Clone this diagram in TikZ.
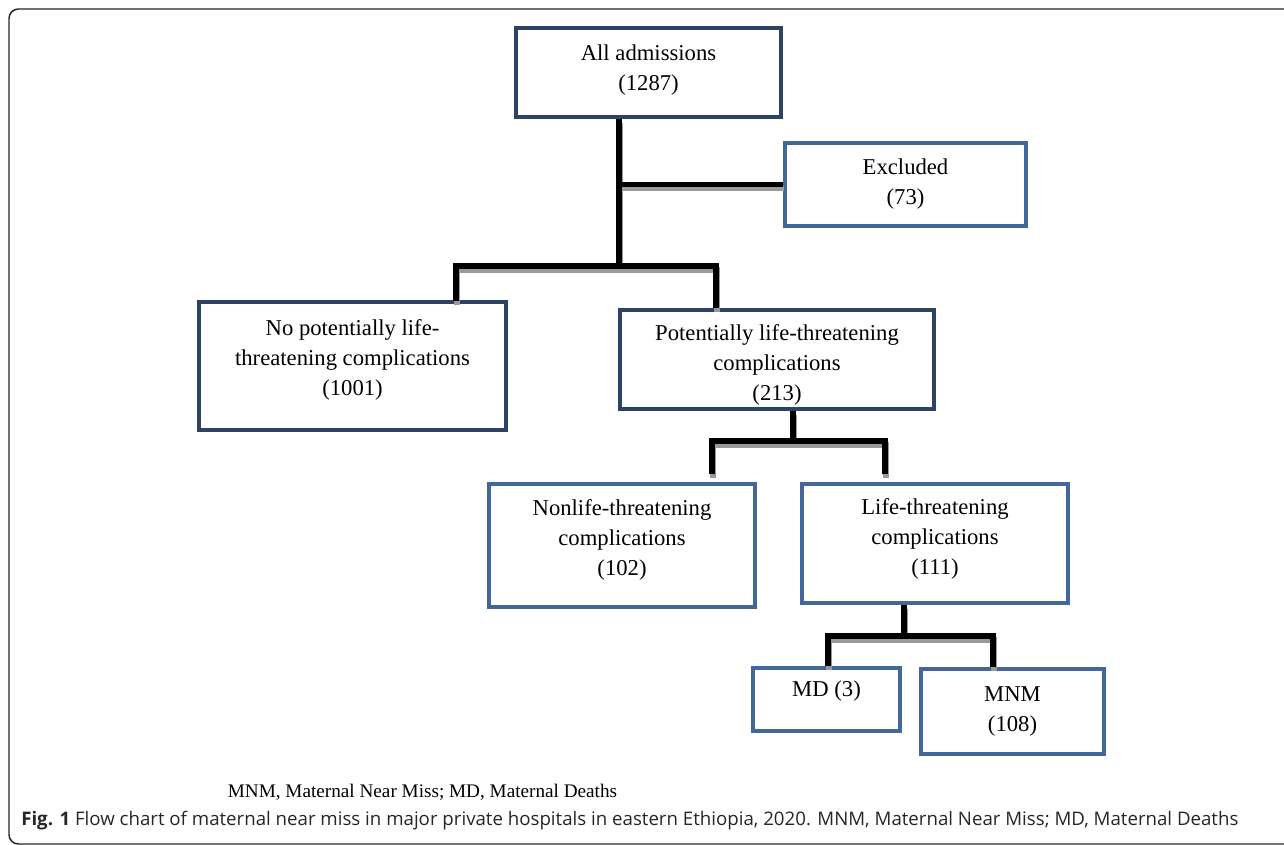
\documentclass[tikz,border=0pt]{standalone}
\usepackage{fontspec}
\setmainfont{Liberation Serif}
\newfontfamily\capfont{Open Sans}
\usetikzlibrary{calc}
\definecolor{navy}{RGB}{44,67,102}
\definecolor{steel}{RGB}{65,104,153}
\newcommand\txdepth[1]{\rule[-#1]{0pt}{#1}}
\newcommand\txheight[1]{\rule{0pt}{#1}}
\begin{document}
\begin{tikzpicture}[x=0.75pt,y=-0.75pt,
  box/.style={draw, line width=2.7pt, align=center, inner sep=0pt,
    font=\fontsize{17}{22.5}\selectfont},
  wh/.style 2 args={minimum width=#1*0.75pt, minimum height=#2*0.75pt},
  dbox/.style={box, draw=navy},
  lbox/.style={box, draw=steel},
  conn/.style={line width=4.2pt, draw=black},
  shade/.style={line width=4.2pt, draw=black!40, transform canvas={xshift=0.75pt, yshift=-3pt}}]
\useasboundingbox (0,0) rectangle (1284,845);
\begin{scope}
  \clip (0,0) rectangle (1284,845);
  \draw[line width=1.1pt, draw=black!85, rounded corners=7pt] (9,9) rectangle (1300,844);
\end{scope}

% boxes
\node[dbox, wh={265}{89}]  (a)    at (648.5,72.5) {All admissions\\(1287)\txdepth{7pt}};
\node[lbox, wh={241}{83}]  (ex)   at (905.5,184.5) {Excluded\\(73)};
\node[dbox, wh={307}{128}] (nopl) at (352.5,366) {No potentially life-\\threatening complications\\(1001)\txdepth{12.7pt}};
\node[dbox, wh={314}{99}]  (pl)   at (777,359.5) {\txheight{20.6pt}Potentially life-threatening\\complications\\(213)};
\node[lbox, wh={266}{123}] (nl)   at (622,545.5) {Nonlife-threatening\\complications\\(102)\txdepth{12.7pt}};
\node[lbox, wh={266}{119}] (lt)   at (935,543.5) {Life-threatening\\complications\\(111)\txdepth{10.7pt}};
\node[lbox, wh={147}{63}]  (md)   at (826.5,699.5) {MD (3)\txdepth{15.7pt}};
\node[lbox, wh={183}{85}]  (mnm)  at (1012.5,711.5) {MNM\\(108)};

% junction coordinates
\coordinate (t1) at (619,266);
\coordinate (h1l) at (456,266);
\coordinate (h1r) at (716,266);
\coordinate (t2) at (793,441);
\coordinate (h2l) at (712,441);
\coordinate (h2r) at (885,441);
\coordinate (t3) at (904,636);
\coordinate (h3l) at (828,636);
\coordinate (h3r) at (993,636);

% connectors (grey shadow first, then black)
\foreach \s in {shade,conn}{
  \draw[\s] (a.south -| t1) -- (t1);
  \draw[\s] (t1 |- ex.west) -- (ex.west);
  \draw[\s] ($(nopl.north -| h1l)+(0,1)$) -- (h1l) -- (h1r) -- (pl.north -| h1r);
  \draw[\s] (pl.south -| t2) -- (t2);
  \draw[\s] ($(nl.north -| h2l)+(0,-8)$) -- (h2l) -- (h2r) -- ($(lt.north -| h2r)+(0,-8)$);
  \draw[\s] (lt.south -| t3) -- (t3);
  \draw[\s] (md.north -| h3l) -- (h3l) -- (h3r) -- (mnm.north -| h3r);
}

% footnote and caption
\node[font=\fontsize{14.4}{17}\selectfont] (fn) at (422.5,792) {MNM, Maternal Near Miss; MD, Maternal Deaths};
\node[anchor=west, inner sep=0pt, text=black!85, font=\capfont\fontsize{14}{16}\selectfont] (cap) at (21,821)
  {\textbf{Fig. 1} Flow chart of maternal near miss in major private hospitals in eastern Ethiopia, 2020. MNM, Maternal Near Miss; MD, Maternal Deaths};
\end{tikzpicture}
\end{document}
